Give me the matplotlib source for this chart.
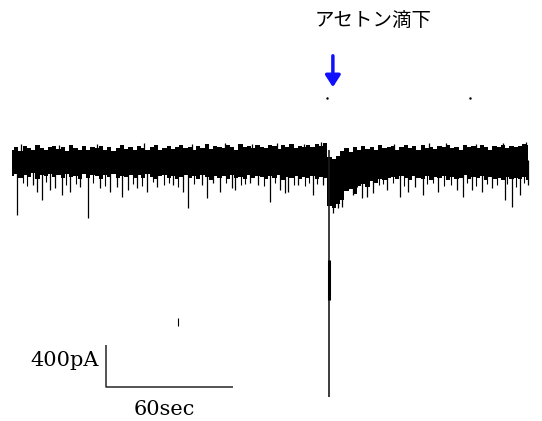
import numpy as np
import matplotlib
matplotlib.use("Agg")
import matplotlib.pyplot as plt

# --- data ----------------------------------------------------------------
# envelope of the current trace, one bin every 2 s (pA)
time_s = np.arange(0, 246, 2)
upper_pa = [
    100, 120, 90, 130, 110, 95, 140, 115, 100, 125,
    135, 105, 120, 90, 140, 110, 100, 130, 95, 120,
    110, 135, 100, 125, 90, 115, 140, 105, 120, 100,
    130, 110, 95, 125, 145, 100, 115, 130, 105, 120,
    140, 110, 125, 100, 135, 115, 150, 105, 130, 120,
    110, 140, 125, 100, 150, 120, 135, 110, 145, 125,
    115, 140, 130, 105, 145, 120, 150, 110, 135, 125,
    140, 120, 155, 130, 160, 30, 10, 40, 90, 110,
    80, 120, 100, 130, 105, 125, 95, 140, 110, 120,
    135, 100, 125, 145, 110, 130, 100, 140, 115, 125,
    105, 135, 120, 145, 110, 125, 100, 140, 120, 130,
    110, 145, 120, 100, 135, 125, 140, 110, 130, 120,
    135, 150, 145,
]
lower_pa = [
    -150, -130, -170, -140, -160, -120, -180, -145, -155, -135,
    -165, -140, -175, -130, -160, -150, -185, -135, -170, -145,
    -155, -180, -140, -165, -130, -175, -150, -160, -140, -170,
    -145, -175, -135, -160, -185, -150, -140, -170, -155, -180,
    -160, -140, -175, -150, -185, -145, -165, -190, -150, -170,
    -155, -180, -140, -170, -160, -185, -145, -175, -150, -165,
    -180, -150, -170, -145, -190, -160, -175, -150, -185, -165,
    -170, -150, -185, -160, -175, -440, -460, -420, -380, -300,
    -280, -320, -250, -230, -260, -200, -220, -180, -190, -170,
    -160, -185, -150, -175, -195, -155, -170, -180, -150, -190,
    -165, -175, -150, -190, -160, -180, -170, -145, -185, -165,
    -175, -155, -190, -160, -180, -170, -195, -165, -185, -175,
    -180, -160, -190,
]

# larger downward events (time s, peak pA)
spike_t = [2.4, 9.9, 11.8, 14.2, 17.9, 20.3, 23.6, 27.4, 32.1, 35.9,
           41.6, 46.3, 49.6, 52.0, 54.8, 59.0, 63.8, 68.5, 76.1, 80.8,
           83.1, 89.7, 92.1, 94.9, 98.3, 103.9, 105.3, 112.4, 116.2, 121.9,
           126.6, 129.0, 130.4, 135.1, 142.2, 146.9, 151.6, 154.0, 155.9, 161.1,
           165.3, 167.7, 170.5, 177.1, 183.3, 187.1, 190.4, 194.1, 201.2, 210.2,
           213.0, 217.3, 222.0, 226.7, 232.9, 236.2, 240.0, 243.7]
spike_pa = [-524, -238, -305, -381, -286, -267, -333, -305, -257, -552,
            -267, -305, -257, -352, -286, -267, -305, -257, -238, -305,
            -457, -238, -362, -219, -305, -267, -286, -219, -238, -400,
            -286, -314, -305, -238, -333, -238, -505, -457, -448, -333,
            -362, -352, -314, -286, -352, -305, -257, -333, -305, -286,
            -352, -286, -305, -267, -381, -448, -333, -238]

# short downward events
short_t = [5.1, 7.3, 16.0, 25.4, 30.2, 38.1, 44.0, 57.3, 61.2, 66.4,
           72.0, 74.3, 78.6, 86.2, 101.1, 108.3, 110.2, 119.0, 124.1, 133.3,
           138.2, 140.4, 144.3, 158.2, 163.1, 173.2, 175.4, 180.1, 185.3, 196.2,
           199.1, 204.3, 207.2, 215.1, 219.4, 224.2, 229.3, 234.1, 238.2, 242.1]
short_pa = [-220, -250, -210, -240, -230, -215, -245, -225, -250, -210,
            -235, -220, -255, -230, -215, -240, -225, -250, -220, -235,
            -245, -215, -230, -290, -260, -240, -225, -215, -250, -230,
            -220, -245, -235, -215, -250, -230, -240, -225, -255, -220]

# upward excursions
up_t = [4.2, 22.1, 40.3, 62.2, 85.1, 100.4, 113.2, 125.3, 138.1, 146.2,
        180.3, 197.1, 205.2, 219.3, 232.1, 243.0]
up_pa = [150, 145, 155, 160, 150, 165, 155, 160, 150, 175,
         150, 160, 165, 150, 160, 170]

# the acetone response
drop_t = 150.0
drop_pa = -2260
arrow_t = 151.6

# scale bar
bar_t0 = 44.4
bar_sec = 60
bar_top_pa = -1762
bar_pa = 400

# --- figure ---------------------------------------------------------------
fig = plt.figure(figsize=(5.42, 4.21), dpi=100)
ax = fig.add_axes([0, 0, 1, 1])
ax.set_xlim(-5.67, 250.4)
ax.set_ylim(-2486, 1524)
ax.axis("off")

ax.fill_between(time_s, lower_pa, upper_pa, step="mid", color="black", lw=0)
ax.vlines(spike_t, spike_pa, 0, color="black", lw=0.9)
ax.vlines(short_t, short_pa, 0, color="black", lw=0.8)
ax.vlines(up_t, 0, up_pa, color="black", lw=0.9)

# big inward current
ax.vlines(drop_t, drop_pa, 100, color="0.1", lw=1.2)
ax.vlines(drop_t, -1333, -952, color="black", lw=2.2)

# stray marks in the original
ax.plot([148.8, 216.3], [590, 590], "k.", ms=1.5)
ax.vlines(78.4, -1580, -1505, color="black", lw=0.8)

# arrow + label
ax.annotate("", xy=(arrow_t, 667), xytext=(arrow_t, 1019),
            arrowprops=dict(arrowstyle="-|>,head_length=0.7,head_width=0.45",
                            color="#1010ff", lw=2.5))
ax.text(170.5, 1333, "アセトン滴下", ha="center", va="center", fontsize=14,
        family=["Noto Sans CJK JP", "DejaVu Sans"])

# scale bar
bar_bot = bar_top_pa - bar_pa
ax.plot([bar_t0, bar_t0, bar_t0 + bar_sec], [bar_top_pa, bar_bot, bar_bot],
        color="0.15", lw=1.1, solid_capstyle="butt")
ax.text(bar_t0 - 3.3, bar_top_pa - 150, "400pA", ha="right", va="center",
        fontsize=15, family="DejaVu Serif")
ax.text(71.8, -2380, "60sec", ha="center", va="center",
        fontsize=15, family="DejaVu Serif")

fig.savefig("out.png", dpi=100)
